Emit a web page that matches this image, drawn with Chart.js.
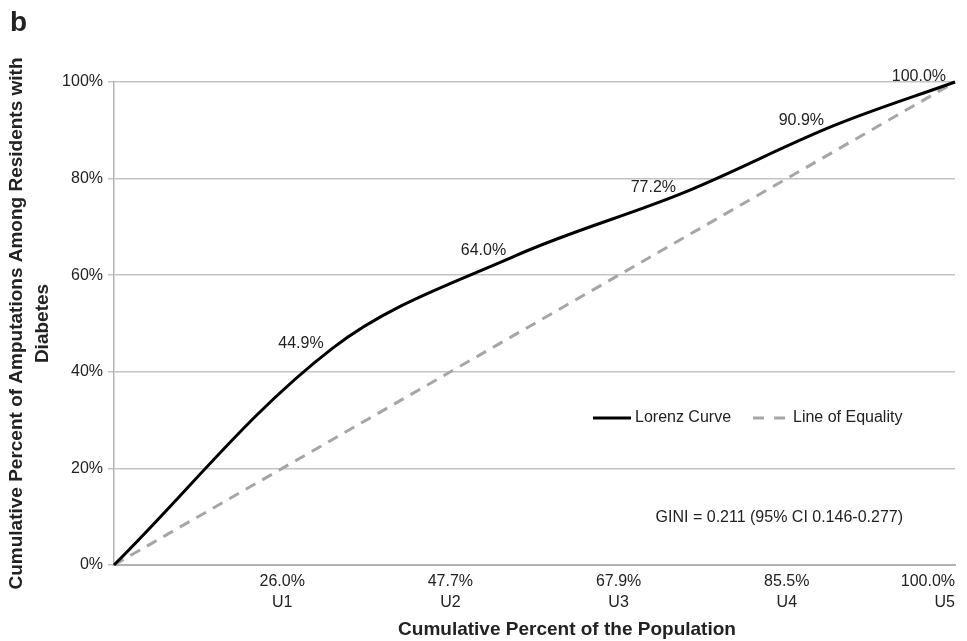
<!DOCTYPE html>
<html>
<head>
<meta charset="utf-8">
<script src="https://cdn.jsdelivr.net/npm/chart.js@4.4.1/dist/chart.umd.min.js"></script>
<style>
  body { margin: 0; background: #fff; }
  #wrap { width: 967px; height: 641px; position: relative; }
</style>
</head>
<body>
<div id="wrap"><canvas id="myChart"></canvas></div>
<script>
// cumulative shares, in percent
const popCum = [0, 26.0, 47.7, 67.9, 85.5, 100.0];
const amputCum = [0, 44.9, 64.0, 77.2, 90.9, 100.0];
const quintiles = ["", "U1", "U2", "U3", "U4", "U5"];
const equalX = [0, 100];
const equalY = [0, 100];
const yTickStep = 20;

const FONT = "'Liberation Sans', Arial, Helvetica, sans-serif";
const TXT = "#222";

// x axis labels: "26.0%" over "U1"
var xLabels = [];
for (var i = 0; i < popCum.length; i++) {
  if (i === 0) xLabels.push("");
  else xLabels.push([popCum[i].toFixed(1) + "%", quintiles[i]]);
}

var lorenz = [];
for (var i = 0; i < popCum.length; i++) lorenz.push({ x: popCum[i], y: amputCum[i] });
var equality = [];
for (var i = 0; i < equalX.length; i++) equality.push({ x: equalX[i], y: equalY[i] });

// extra text, legend and point labels
const extras = {
  id: "extras",
  afterDatasetsDraw(chart) {
    const ctx = chart.ctx;
    ctx.save();
    ctx.fillStyle = TXT;
    ctx.textBaseline = "middle";

    // point labels, left of each point
    ctx.font = "16px " + FONT;
    ctx.textAlign = "right";
    const pts = chart.getDatasetMeta(0).data;
    for (let i = 1; i < pts.length; i++) {
      ctx.fillText(amputCum[i].toFixed(1) + "%", pts[i].x - 9, pts[i].y - 5);
    }

    // panel letter
    ctx.font = "bold 28px " + FONT;
    ctx.textAlign = "left";
    ctx.fillText("b", 10, 23);

    // x axis title
    ctx.font = "bold 19px " + FONT;
    ctx.textAlign = "center";
    ctx.fillText("Cumulative Percent of the Population", 567, 630);

    // legend
    const ds = chart.data.datasets;
    ctx.font = "16px " + FONT;
    ctx.textAlign = "left";
    ctx.lineWidth = 3;
    let lx = 593, ly = 418;
    ctx.strokeStyle = ds[0].borderColor;
    ctx.setLineDash([]);
    ctx.beginPath(); ctx.moveTo(lx, ly); ctx.lineTo(lx + 38, ly); ctx.stroke();
    ctx.fillText(ds[0].label, lx + 42, ly);
    lx = 753;
    ctx.strokeStyle = ds[1].borderColor;
    ctx.setLineDash([11, 10]);
    ctx.beginPath(); ctx.moveTo(lx, ly); ctx.lineTo(lx + 33, ly); ctx.stroke();
    ctx.setLineDash([]);
    ctx.fillText(ds[1].label, lx + 40, ly);

    // GINI note
    ctx.textAlign = "right";
    ctx.fillText("GINI = 0.211 (95% CI 0.146-0.277)", 903, 518);
    ctx.restore();
  }
};

new Chart("myChart", {
  type: "scatter",
  data: {
    datasets: [{
      label: "Lorenz Curve",
      data: lorenz,
      showLine: true,
      borderColor: "#000",
      borderWidth: 3,
      pointRadius: 0,
      tension: 0.35,
      clip: 6
    }, {
      label: "Line of Equality",
      data: equality,
      showLine: true,
      borderColor: "#a6a6a6",
      borderWidth: 3,
      borderDash: [11, 8],
      pointRadius: 0,
      clip: 6
    }]
  },
  options: {
    responsive: true,
    maintainAspectRatio: false,
    animation: false,
    layout: { padding: { top: 82, right: 12, left: 0, bottom: 0 } },
    plugins: {
      legend: { display: false },
      tooltip: { enabled: false }
    },
    scales: {
      x: {
        type: "linear",
        min: 0,
        max: 100,
        display: false
      },
      xl: {
        type: "category",
        axis: "x",
        position: "bottom",
        labels: xLabels,
        offset: false,
        grid: { display: false },
        border: { display: true, color: "#b3b3b3", width: 2 },
        ticks: {
          align: "inner",
          maxRotation: 0,
          autoSkip: false,
          padding: -2,
          color: TXT,
          font: { family: FONT, size: 16, lineHeight: 1.3 }
        },
        afterFit: function(scale) {
          scale.height = 76;
          scale.paddingLeft = 0;
          scale.paddingRight = 0;
        }
      },
      y: {
        min: 0,
        max: 100,
        grid: { color: "#c4c4c4", lineWidth: 1.5, tickLength: 6 },
        border: { display: true, color: "#b3b3b3", width: 1.5 },
        ticks: {
          stepSize: yTickStep,
          padding: 5,
          color: TXT,
          font: { family: FONT, size: 16 },
          callback: function(v) { return v + "%"; }
        },
        title: {
          display: true,
          text: ["Cumulative Percent of Amputations Among Residents with", "Diabetes"],
          color: TXT,
          font: { family: FONT, size: 19, weight: "bold", lineHeight: 1.4 },
          padding: { top: 3, bottom: 0 }
        },
        afterFit: function(scale) {
          scale.width = 114;
          scale.paddingTop = 0;
          scale.paddingBottom = 0;
        }
      }
    }
  },
  plugins: [extras]
});
</script>
</body>
</html>
